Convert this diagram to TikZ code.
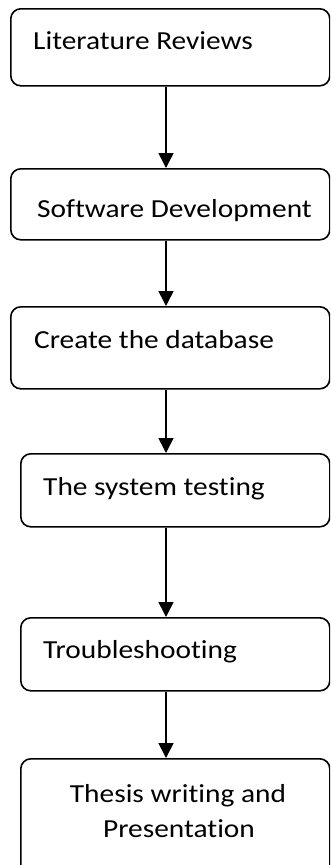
\documentclass[tikz,border=0pt]{standalone}
\usepackage{fontspec}
\setmainfont{Carlito}[RawFeature=-liga]
\usetikzlibrary{arrows.meta}
% captions are set a little wide, stretched horizontally
\newcommand\stretchtxt[1]{\scalebox{1.13}[1]{#1}}
\begin{document}
\begin{tikzpicture}[x=1pt,y=-1pt,
  stagebox/.style={draw=black,line width=1.6pt,rounded corners=10pt,
    minimum width=#1,inner sep=0pt,anchor=north west},
  stagebox/.default=319pt,
  label/.style={font=\fontsize{26}{31}\selectfont,anchor=base west,inner sep=0pt},
  flow/.style={line width=1.6pt,-{Triangle[width=15pt,length=15pt]}}]
\clip (0,0) rectangle (330,865);
\useasboundingbox (0,0) rectangle (330,865);
% stage frames
\node[stagebox=319pt,minimum height=77pt] (b1) at (10,8) {};
\node[stagebox=319pt,minimum height=71pt] (b2) at (10,168) {};
\node[stagebox=319pt,minimum height=82pt] (b3) at (10,306) {};
\node[stagebox=309pt,minimum height=73pt] (b4) at (20,453) {};
\node[stagebox=309pt,minimum height=73pt] (b5) at (20,617) {};
\node[stagebox=309pt,minimum height=125pt] (b6) at (20,758) {};
% stage captions
\node[label] (t1) at (33,49) {\stretchtxt{Literature Reviews}};
\node[label] (t2) at (37,217) {\stretchtxt{Software Development}};
\node[label] (t3) at (34,348) {\stretchtxt{Create the database}};
\node[label] (t4) at (43,495) {\stretchtxt{The system testing}};
\node[label] (t5) at (43,658) {\stretchtxt{Troubleshooting}};
\node[label,anchor=base] (t6) at (178,802) {\stretchtxt{Thesis writing and}};
\node[label,anchor=base] (t7) at (179,837) {\stretchtxt{Presentation}};
% connectors along a common vertical axis
\coordinate (axis) at (166,0);
\draw[flow] (b1.south -| axis) -- (b2.north -| axis);
\draw[flow] (b2.south -| axis) -- (b3.north -| axis);
\draw[flow] (b3.south -| axis) -- (b4.north -| axis);
\draw[flow] (b4.south -| axis) -- (b5.north -| axis);
\draw[flow] (b5.south -| axis) -- (b6.north -| axis);
\end{tikzpicture}
\end{document}
